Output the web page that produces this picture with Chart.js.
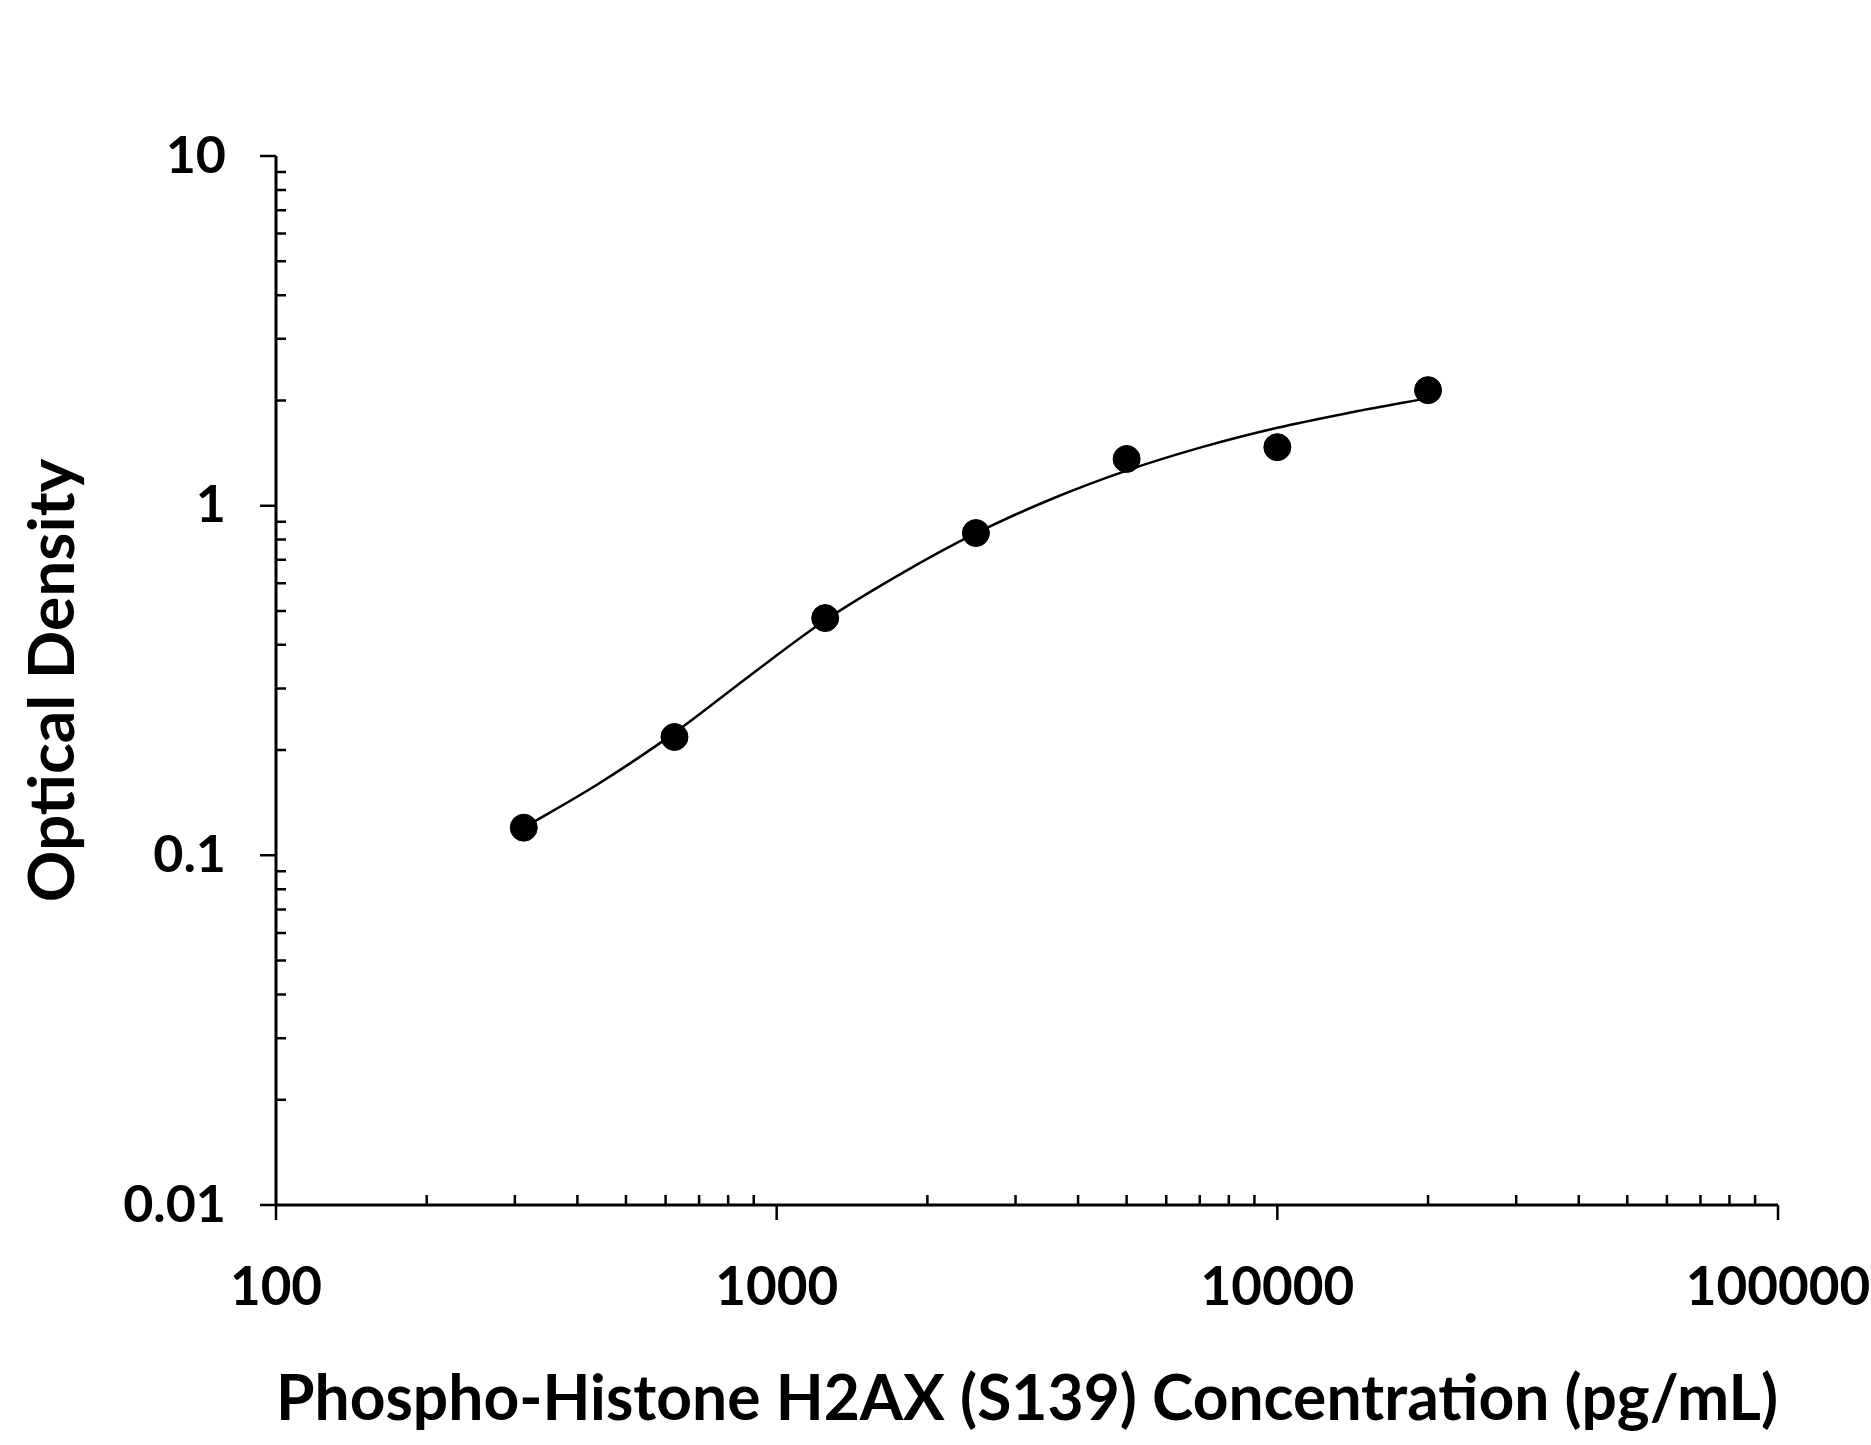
<!DOCTYPE html>
<html>
<head>
<meta charset="utf-8">
<script src="https://cdn.jsdelivr.net/npm/chart.js@4.4.1/dist/chart.umd.min.js"></script>
<style>
  html, body { margin: 0; padding: 0; background: #fff; }
  #wrap { width: 1871px; height: 1445px; position: relative; }
</style>
</head>
<body>
<div id="wrap"><canvas id="odChart"></canvas></div>
<script>
// standard points (pg/mL vs OD)
const concentrations = [312.5, 625, 1250, 2500, 5000, 10000, 20000];
const odValues = [0.12, 0.218, 0.477, 0.835, 1.36, 1.47, 2.14];

// fitted curve
const curveX = [312.5, 440, 625, 885, 1250, 1770, 2500, 3540, 5000, 7070, 10000, 14100, 20000];
const curveY = [0.12, 0.16, 0.224, 0.327, 0.47, 0.638, 0.834, 1.045, 1.26, 1.47, 1.67, 1.85, 2.03];

const xTickLabels = ['100', '1000', '10000', '100000'];
const yTickLabels = ['0.01', '0.1', '1', '10'];

const xTitle = 'Phospho-Histone H2AX (S139) Concentration (pg/mL)';
const yTitle = 'Optical Density';

function isDecade(v) {
    const l = Math.log10(v);
    return Math.abs(l - Math.round(l)) < 1e-6;
}

// axes with outward major ticks and inward minor ticks
const axisPlugin = {
    id: 'logAxes',
    afterDraw(chart) {
        const ctx = chart.ctx;
        const xs = chart.scales.x;
        const ys = chart.scales.y;
        const x0 = xs.getPixelForValue(xs.min);
        const x1 = xs.getPixelForValue(xs.max);
        const y0 = ys.getPixelForValue(ys.min);
        const y1 = ys.getPixelForValue(ys.max);
        ctx.save();
        ctx.strokeStyle = '#000';
        ctx.lineCap = 'butt';
        ctx.lineWidth = 3;
        ctx.beginPath();
        ctx.moveTo(x0, y1);
        ctx.lineTo(x0, y0);
        ctx.moveTo(x0, y0);
        ctx.lineTo(x1, y0);
        ctx.stroke();

        ctx.lineWidth = 2.5;
        ctx.beginPath();
        for (let e = Math.log10(xs.min); e <= Math.log10(xs.max); e++) {
            const d = Math.pow(10, e);
            const px = xs.getPixelForValue(d);
            ctx.moveTo(px, y0);
            ctx.lineTo(px, y0 + 15);
            if (d < xs.max) {
                for (let k = 2; k <= 9; k++) {
                    const mx = xs.getPixelForValue(k * d);
                    ctx.moveTo(mx, y0);
                    ctx.lineTo(mx, y0 - 10);
                }
            }
        }
        for (let e = Math.round(Math.log10(ys.min)); e <= Math.round(Math.log10(ys.max)); e++) {
            const d = Math.pow(10, e);
            const py = ys.getPixelForValue(d);
            ctx.moveTo(x0, py);
            ctx.lineTo(x0 - 16, py);
            if (d < ys.max * 0.999) {
                for (let k = 2; k <= 9; k++) {
                    const my = ys.getPixelForValue(k * d);
                    ctx.moveTo(x0, my);
                    ctx.lineTo(x0 + 10, my);
                }
            }
        }
        ctx.stroke();
        ctx.restore();
    }
};

const ctx = document.getElementById('odChart');
new Chart(ctx.getContext('2d'), {
    type: 'scatter',
    data: {
        datasets: [{
            label: 'Standards',
            data: concentrations.map((c, i) => ({ x: c, y: odValues[i] })),
            backgroundColor: '#000',
            borderColor: '#000',
            pointRadius: 13.5,
            pointHoverRadius: 13.5,
            showLine: false,
            order: 0
        }, {
            label: 'Fit',
            data: curveX.map((c, i) => ({ x: c, y: curveY[i] })),
            borderColor: '#000',
            borderWidth: 2.5,
            pointRadius: 0,
            showLine: true,
            cubicInterpolationMode: 'monotone',
            order: 1
        }]
    },
    options: {
        responsive: true,
        maintainAspectRatio: false,
        animation: false,
        layout: {
            padding: { left: 10, right: 93, top: 156, bottom: 7 }
        },
        plugins: {
            legend: { display: false },
            tooltip: { enabled: false }
        },
        scales: {
            x: {
                type: 'logarithmic',
                min: 100,
                max: 100000,
                grid: { display: false, drawTicks: false },
                border: { display: false },
                ticks: {
                    autoSkip: false,
                    maxRotation: 0,
                    padding: 51,
                    color: '#000',
                    font: { family: 'Lato', weight: 'bold', size: 53 },
                    callback: function(value) {
                        if (!isDecade(value)) return '';
                        const i = Math.round(Math.log10(value)) - 2;
                        return xTickLabels[i] || '';
                    }
                },
                title: {
                    display: true,
                    text: xTitle,
                    color: '#000',
                    padding: { top: 0, bottom: 0 },
                    font: { family: 'Lato', weight: 'bold', size: 64 }
                },
                afterFit: function(scale) {
                    scale.height = 233;
                    // labels may run past the plot edge, like the original
                    scale.paddingLeft = 0;
                    scale.paddingRight = 0;
                }
            },
            y: {
                type: 'logarithmic',
                min: 0.01,
                max: 10,
                grid: { display: false, drawTicks: false },
                border: { display: false },
                ticks: {
                    autoSkip: false,
                    padding: 50,
                    color: '#000',
                    font: { family: 'Lato', weight: 'bold', size: 52 },
                    callback: function(value) {
                        if (!isDecade(value)) return '';
                        const i = Math.round(Math.log10(value)) + 2;
                        return yTickLabels[i] || '';
                    }
                },
                title: {
                    display: true,
                    text: yTitle,
                    color: '#000',
                    padding: { top: 5, bottom: 0 },
                    font: { family: 'Lato', weight: 'bold', size: 64 }
                },
                afterFit: function(scale) {
                    scale.width = 266;
                    scale.paddingTop = 0;
                    scale.paddingBottom = 0;
                }
            }
        }
    },
    plugins: [axisPlugin]
});
</script>
</body>
</html>
